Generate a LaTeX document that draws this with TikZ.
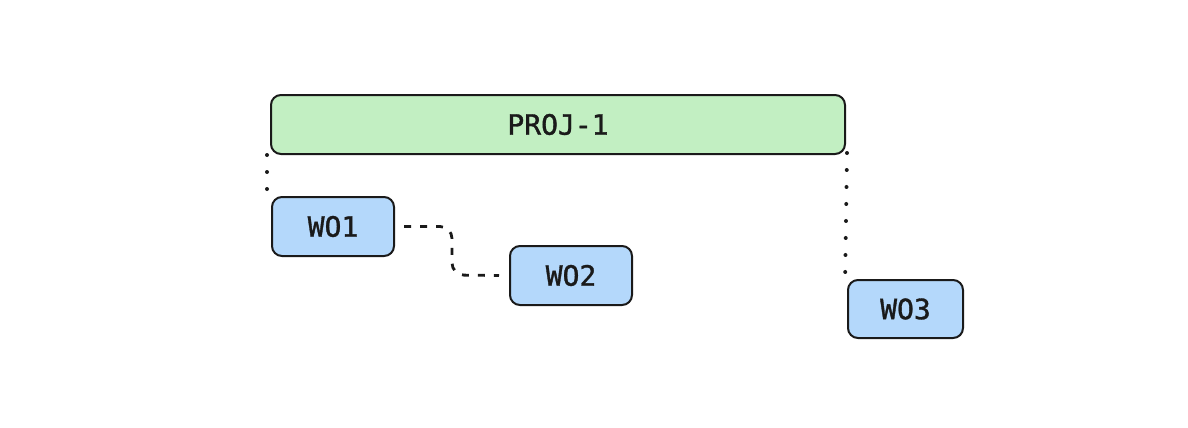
\documentclass[tikz,border=0pt]{standalone}
\usepackage{fontspec}
\newfontfamily\lblfont[FakeBold=1.2]{DejaVu Sans Mono}
\usetikzlibrary{calc}
\definecolor{projfill}{HTML}{C2EFC2}
\definecolor{wofill}{HTML}{B4D8FB}
\definecolor{edge}{HTML}{1A1A1A}
\tikzset{
  box/.style={draw=edge, line width=2pt, rounded corners=10pt, font=\lblfont\fontsize{28}{30}\selectfont, text=edge, inner sep=0pt},
  projbox/.style={box, fill=projfill, minimum width=574pt, minimum height=59pt},
  wobox/.style={box, fill=wofill, minimum width=122pt, minimum height=59pt},
  dotline/.style={draw=edge, line width=4pt, line cap=round, dash pattern=on 0pt off 17pt},
  dashline/.style={draw=edge, line width=2.8pt, dash pattern=on 7pt off 9pt, rounded corners=12pt}
}
\begin{document}
\begin{tikzpicture}[x=1pt,y=-1pt]
\useasboundingbox (0,0) rectangle (1188,428);
\node[projbox] (proj) at (558,124.5) {PROJ-1};
\node[wobox] (wo1) at (333,226.5) {WO1};
\node[wobox] (wo2) at (571,275.5) {WO2};
\node[wobox, minimum width=115pt, minimum height=58pt] (wo3) at (905.5,309) {WO3};
\coordinate (a1) at ($(proj.south west)+(-3,0)$);
\coordinate (a2) at ($(wo1.north west)+(-4,-4)$);
\draw[dotline] (a1) -- (a2);
\coordinate (b1) at ($(proj.south east)+(1,-2)$);
\coordinate (b2) at ($(wo3.north west)+(-2,8)$);
\draw[dotline] (b1) -- (b2);
\draw[dashline] ($(wo1.east)+(9,0)$) -- (452,226.5) -- (452,275) -- ($(wo2.west)+(-10,0)$);
\end{tikzpicture}
\end{document}
